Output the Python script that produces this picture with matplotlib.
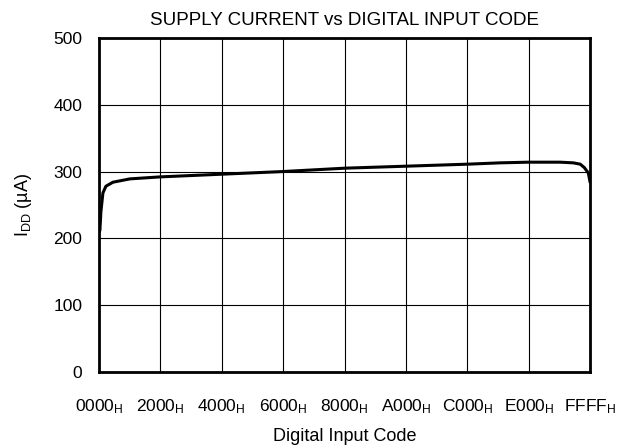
import matplotlib.pyplot as plt

plt.rcParams['font.family'] = ['Liberation Sans', 'DejaVu Sans']
plt.rcParams['mathtext.default'] = 'regular'

# Supply current (uA) vs input code
codes = [0, 133, 267, 534, 934, 1869, 4137, 8192, 16384, 24576, 32768,
         40960, 49152, 53500, 57344, 61500, 63270, 64200, 64735, 65270, 65535]
idd = [208, 212, 240, 268, 278, 284, 289, 292, 296, 300, 305,
       308, 311, 313, 314, 314, 313, 311, 306, 298, 283]

tick_pos = [0, 8192, 16384, 24576, 32768, 40960, 49152, 57344, 65535]
tick_lbl = ['0000', '2000', '4000', '6000', '8000', 'A000', 'C000', 'E000', 'FFFF']

fig = plt.figure(figsize=(6.34, 4.46), dpi=100)
ax = fig.add_axes([0.156, 0.166, 0.775, 0.749])

ax.plot(codes, idd, color='black', linewidth=2.2, solid_capstyle='butt')

ax.set_xlim(0, 65535)
ax.set_ylim(0, 500)
ax.set_xticks(tick_pos)
ax.set_xticklabels([t + '$_{H}$' for t in tick_lbl])
ax.set_yticks([0, 100, 200, 300, 400, 500])
ax.tick_params(length=0, labelsize=12.5)
ax.tick_params(axis='x', pad=18)
ax.tick_params(axis='y', pad=12)
ax.grid(True, color='black', linewidth=0.8)
for s in ax.spines.values():
    s.set_linewidth(2)

ax.set_title('SUPPLY CURRENT vs DIGITAL INPUT CODE', fontsize=13.5, pad=9)
ax.set_xlabel('Digital Input Code', fontsize=13, labelpad=9)
ax.set_ylabel('I$_{DD}$ (\u00b5A)', fontsize=13, labelpad=14)

plt.savefig('out.png', dpi=100)
